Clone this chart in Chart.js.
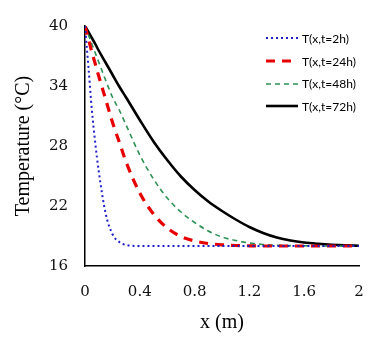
<!DOCTYPE html>
<html>
<head>
<meta charset="utf-8">
<script src="https://cdn.jsdelivr.net/npm/chart.js@4.4.1/dist/chart.umd.min.js"></script>
<style>
  html, body { margin: 0; padding: 0; background: #fff; }
  #wrap { position: relative; width: 388px; height: 339px; }
  #legend { position: absolute; left: 266px; top: 27px; font-family: Lato, "Liberation Sans", sans-serif; font-size: 12px; color: #000; }
  .row { display: flex; align-items: center; height: 22.7px; }
  .row svg { width: 32px; height: 8px; margin-right: 4px; }
</style>
</head>
<body>
<div id="wrap">
  <canvas id="c" width="388" height="339"></canvas>
  <div id="legend"></div>
</div>
<script>
const xValues = [0, 0.025, 0.05, 0.075, 0.1, 0.15, 0.2, 0.25, 0.3, 0.4, 0.5, 0.6, 0.7, 0.8, 0.9, 1.0, 1.1, 1.2, 1.3, 1.4, 1.5, 1.6, 1.7, 1.8, 1.9, 2.0];
const t2h  = [40, 35.9, 31.6, 28.3, 25.5, 21.3, 19.2, 18.4, 18.1, 18, 18, 18, 18, 18, 18, 18, 18, 18, 18, 18, 18, 18, 18, 18, 18, 18];
const t24h = [40, 38.7, 37.4, 36.2, 35.0, 32.7, 30.4, 28.4, 26.4, 23.3, 21.2, 19.8, 18.95, 18.5, 18.25, 18.12, 18.05, 18.02, 18, 18, 18, 18, 18, 18, 18, 18];
const t48h = [40, 39.1, 38.2, 37.3, 36.4, 34.6, 32.9, 31.6, 30.1, 27.1, 24.7, 22.8, 21.4, 20.35, 19.5, 18.9, 18.55, 18.3, 18.15, 18.08, 18.04, 18.02, 18, 18, 18, 18];
const t72h = [40, 39.4, 38.8, 38.2, 37.55, 36.35, 35.15, 33.95, 32.85, 30.6, 28.45, 26.6, 24.95, 23.6, 22.45, 21.5, 20.65, 19.9, 19.3, 18.85, 18.55, 18.35, 18.22, 18.12, 18.06, 18.03];
const seriesNames = ["T(x,t=2h)", "T(x,t=24h)", "T(x,t=48h)", "T(x,t=72h)"];
const xTicks = [0, 0.4, 0.8, 1.2, 1.6, 2];
const xTickLabels = ["0", "0.4", "0.8", "1.2", "1.6", "2"];
const yTicks = [16, 22, 28, 34, 40];
const yTickLabels = ["16", "22", "28", "34", "40"];

const styles = [
  { color: "#1f1fc8", width: 2, dash: [2, 3] },
  { color: "#e60000", width: 3.2, dash: [9, 7] },
  { color: "#2e9155", width: 1.6, dash: [5, 4] },
  { color: "#000000", width: 2.6, dash: [] }
];
const allSeries = [t2h, t24h, t48h, t72h];

const datasets = allSeries.map((s, i) => ({
  label: seriesNames[i],
  data: s.map((v, k) => ({ x: xValues[k], y: v })),
  borderColor: styles[i].color,
  borderWidth: styles[i].width,
  borderDash: styles[i].dash,
  pointRadius: 0,
  fill: false,
  cubicInterpolationMode: "monotone"
}));

const tickFont = { family: "DejaVu Serif", size: 15 };
const titleFont = { family: "Liberation Serif", size: 20 };

new Chart(document.getElementById("c"), {
  type: "line",
  data: { datasets },
  options: {
    responsive: false,
    animation: false,
    layout: { padding: { left: 0, right: 29, top: 22, bottom: 0 } },
    plugins: { legend: { display: false }, tooltip: { enabled: false } },
    scales: {
      x: {
        type: "linear", min: 0, max: 2,
        grid: { display: false, drawTicks: false },
        border: { display: true, color: "#000", width: 1.5 },
        afterBuildTicks: s => { s.ticks = xTicks.map(v => ({ value: v })); },
        afterFit: s => { s.height = 73; },
        ticks: { font: tickFont, color: "#111", padding: 17, maxRotation: 0,
                 callback: (v) => xTickLabels[xTicks.indexOf(v)] },
        title: { display: true, text: "x (m)", font: titleFont, color: "#000", padding: { top: 0, bottom: 4 } }
      },
      y: {
        type: "linear", min: 16, max: 40,
        grid: { display: false, drawTicks: false },
        border: { display: true, color: "#000", width: 1.5 },
        afterBuildTicks: s => { s.ticks = yTicks.map(v => ({ value: v })); },
        afterFit: s => { s.width = 85; },
        ticks: { font: tickFont, color: "#111", padding: 17,
                 callback: (v) => yTickLabels[yTicks.indexOf(v)] },
        title: { display: true, text: "Temperature (°C)", font: titleFont, color: "#000", padding: { top: 12, bottom: 0 } }
      }
    }
  }
});

const leg = document.getElementById("legend");
datasets.forEach((d, i) => {
  const row = document.createElement("div");
  row.className = "row";
  const st = styles[i];
  row.innerHTML = '<svg viewBox="0 0 32 8"><line x1="0" y1="4" x2="32" y2="4" stroke="' + st.color +
    '" stroke-width="' + st.width + '" stroke-dasharray="' + (st.dash.length ? st.dash.join(",") : "none") + '"/></svg>';
  const span = document.createElement("span");
  span.textContent = d.label;
  row.appendChild(span);
  leg.appendChild(row);
});
</script>
</body>
</html>
